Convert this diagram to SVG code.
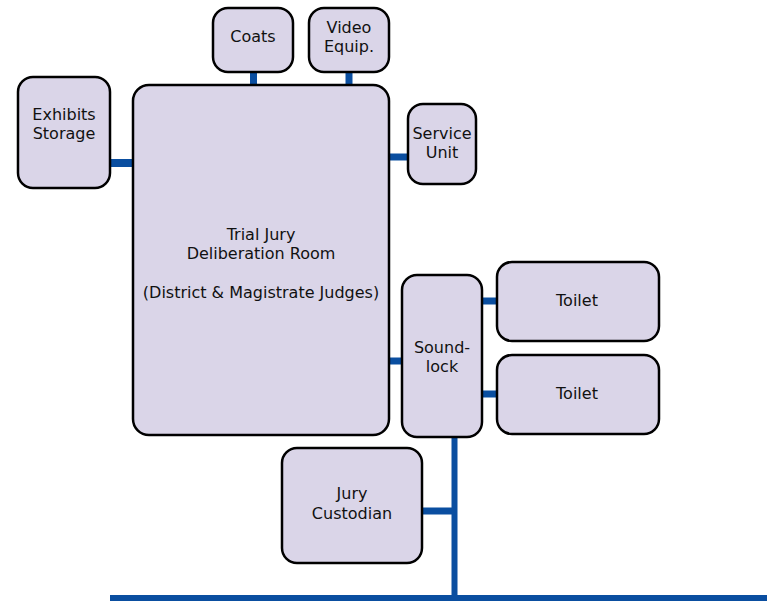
<svg xmlns="http://www.w3.org/2000/svg" width="767" height="601" viewBox="0 0 767 601">
<style>
.box{fill:#dad5e8;stroke:#000;stroke-width:2.5}
.t{font-family:"DejaVu Sans",Verdana,sans-serif;font-size:16px;fill:#111;text-anchor:middle}
.c{stroke:#0a4ea0;fill:none}
</style>
<rect width="767" height="601" fill="#fff"/>
<g id="connectors">
<line class="c" x1="110" y1="163" x2="134" y2="163" stroke-width="8"/>
<line class="c" x1="253.5" y1="72" x2="253.5" y2="86" stroke-width="7"/>
<line class="c" x1="349" y1="72" x2="349" y2="86" stroke-width="7"/>
<line class="c" x1="388" y1="157" x2="409" y2="157" stroke-width="7"/>
<line class="c" x1="388" y1="361" x2="403" y2="361" stroke-width="7"/>
<line class="c" x1="481" y1="301" x2="498" y2="301" stroke-width="7"/>
<line class="c" x1="481" y1="394" x2="498" y2="394" stroke-width="7"/>
<line class="c" x1="454.5" y1="436" x2="454.5" y2="598" stroke-width="6"/>
<line class="c" x1="421" y1="511" x2="454.5" y2="511" stroke-width="7"/>
<line class="c" x1="110" y1="598" x2="767" y2="598" stroke-width="6"/>
</g>
<g id="main">
<rect class="box" x="133" y="85" width="256" height="350" rx="16"/>
<text class="t" x="261" y="240">Trial Jury</text>
<text class="t" x="261" y="259">Deliberation Room</text>
<text class="t" x="261" y="298">(District &amp; Magistrate Judges)</text>
</g>
<g id="exhibits">
<rect class="box" x="18" y="77" width="92" height="111" rx="15"/>
<text class="t" x="64" y="120">Exhibits</text>
<text class="t" x="64" y="139">Storage</text>
</g>
<g id="coats">
<rect class="box" x="213" y="8" width="80" height="64" rx="15"/>
<text class="t" x="253" y="42">Coats</text>
</g>
<g id="video">
<rect class="box" x="309" y="8" width="80" height="64" rx="15"/>
<text class="t" x="349" y="33">Video</text>
<text class="t" x="349" y="52">Equip.</text>
</g>
<g id="service">
<rect class="box" x="408" y="104" width="68" height="80" rx="15"/>
<text class="t" x="442" y="139">Service</text>
<text class="t" x="442" y="158">Unit</text>
</g>
<g id="soundlock">
<rect class="box" x="402" y="275" width="80" height="162" rx="15"/>
<text class="t" x="442" y="353">Sound-</text>
<text class="t" x="442" y="372">lock</text>
</g>
<g id="toilet1">
<rect class="box" x="497" y="262" width="162" height="79" rx="15"/>
<text class="t" x="577" y="306">Toilet</text>
</g>
<g id="toilet2">
<rect class="box" x="497" y="355" width="162" height="79" rx="15"/>
<text class="t" x="577" y="399">Toilet</text>
</g>
<g id="custodian">
<rect class="box" x="282" y="448" width="140" height="115" rx="15"/>
<text class="t" x="352" y="499">Jury</text>
<text class="t" x="352" y="519">Custodian</text>
</g>
</svg>
